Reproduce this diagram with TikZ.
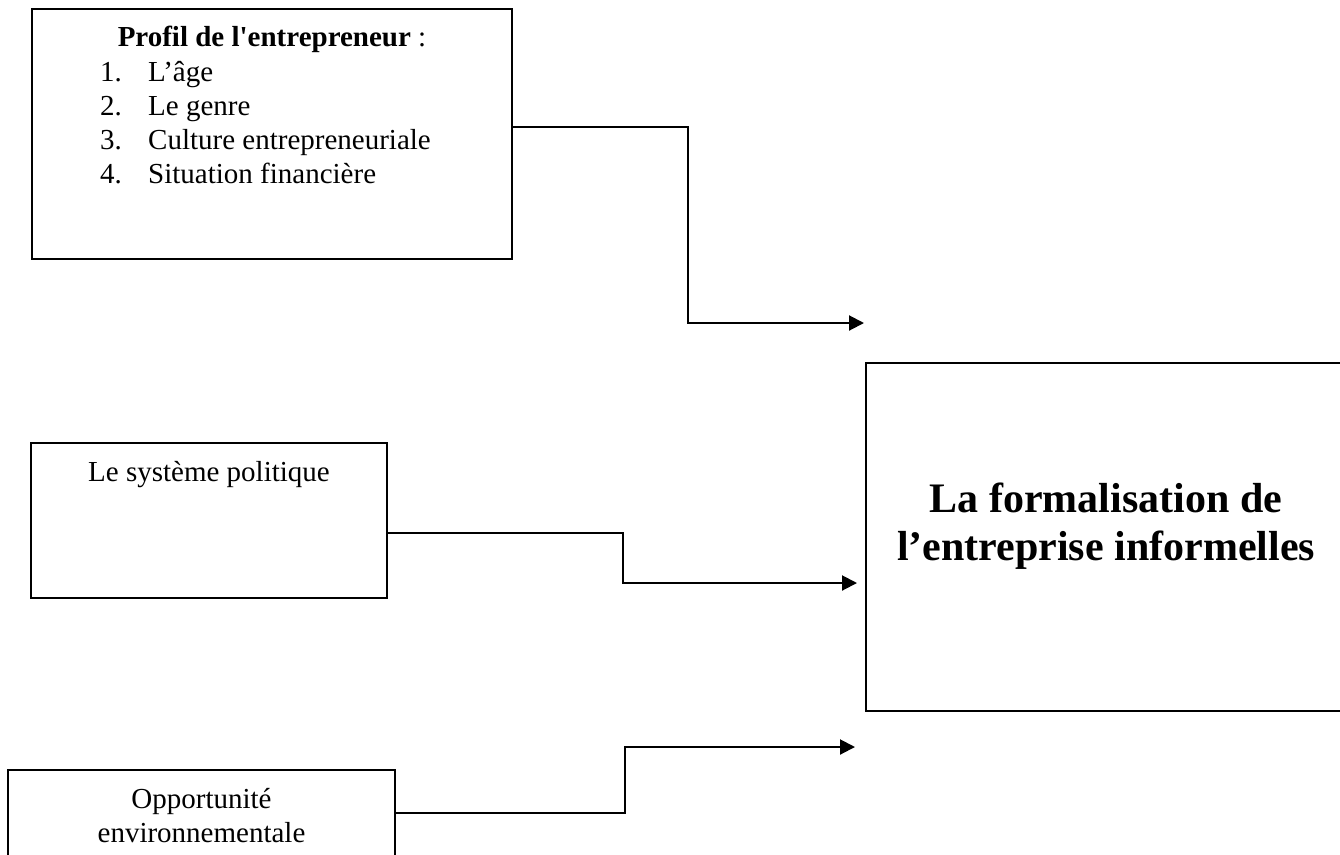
\documentclass[tikz,border=0pt]{standalone}
\usepackage{fontspec}
\setmainfont{Liberation Serif}
\usetikzlibrary{arrows.meta, positioning, calc}

\begin{document}
\begin{tikzpicture}[
  x=1pt, y=-1pt,
  boxnode/.style={draw, line width=2pt, inner sep=0pt},
  txt/.style={font=\fontsize{29}{34}\selectfont, inner sep=0pt},
  bigtxt/.style={font=\fontsize{42}{48}\selectfont\bfseries, align=center, inner sep=0pt},
  arrowline/.style={-{Triangle[length=15pt, width=15pt]}, line width=2pt}
]
  \useasboundingbox (0,0) rectangle (1340,854);
  \clip (0,0) rectangle (1340,854);

  % PROFIL
  \node[boxnode, minimum width=480pt, minimum height=250pt] (profil) at (272,134) {};
  \node[txt, anchor=base] (profiltitle) at ([yshift=-38pt]profil.north)
    {\textbf{Profil de l\textquotesingle entrepreneur} :};
  \foreach \n/\lbl in {1/L’âge, 2/Le genre, 3/Culture entrepreneuriale, 4/Situation financière} {
    \node[txt, anchor=base west] (num\n) at (100,47+34*\n) {\n.};
    \node[txt, anchor=base west] (item\n) at (148,47+34*\n) {\lbl};
  }

  % SYSTEME POLITIQUE
  \node[boxnode, minimum width=356pt, minimum height=155pt] (systeme) at (209,520.5) {};
  \node[txt, anchor=base] (systemetxt) at ([yshift=-39pt]systeme.north) {Le système politique};

  % OPPORTUNITE
  \node[boxnode, minimum width=387pt, minimum height=86pt] (opport) at (201.5,813) {};
  \node[txt, anchor=base, align=center] (opporttxt) at ([yshift=-73pt]opport.north)
    {Opportunité\\environnementale};

  % FORMALISATION
  \node[boxnode, minimum width=500pt, minimum height=348pt] (formal) at (1116,537) {};
  \node[bigtxt] (formaltxt) at (1106,526) {La formalisation de\\l’entreprise informelles};

  % connectors
  \coordinate (end1) at (864,323);
  \coordinate (end2) at (857,583);
  \coordinate (end3) at (855,747);
  \draw[arrowline] ([yshift=7pt]profil.east) -- ++(175,0) |- (end1);
  \draw[arrowline] ([yshift=-12.5pt]systeme.east) -- ++(235,0) |- (end2);
  \draw[arrowline] (opport.east) -- ++(229,0) |- (end3);

\end{tikzpicture}
\end{document}
